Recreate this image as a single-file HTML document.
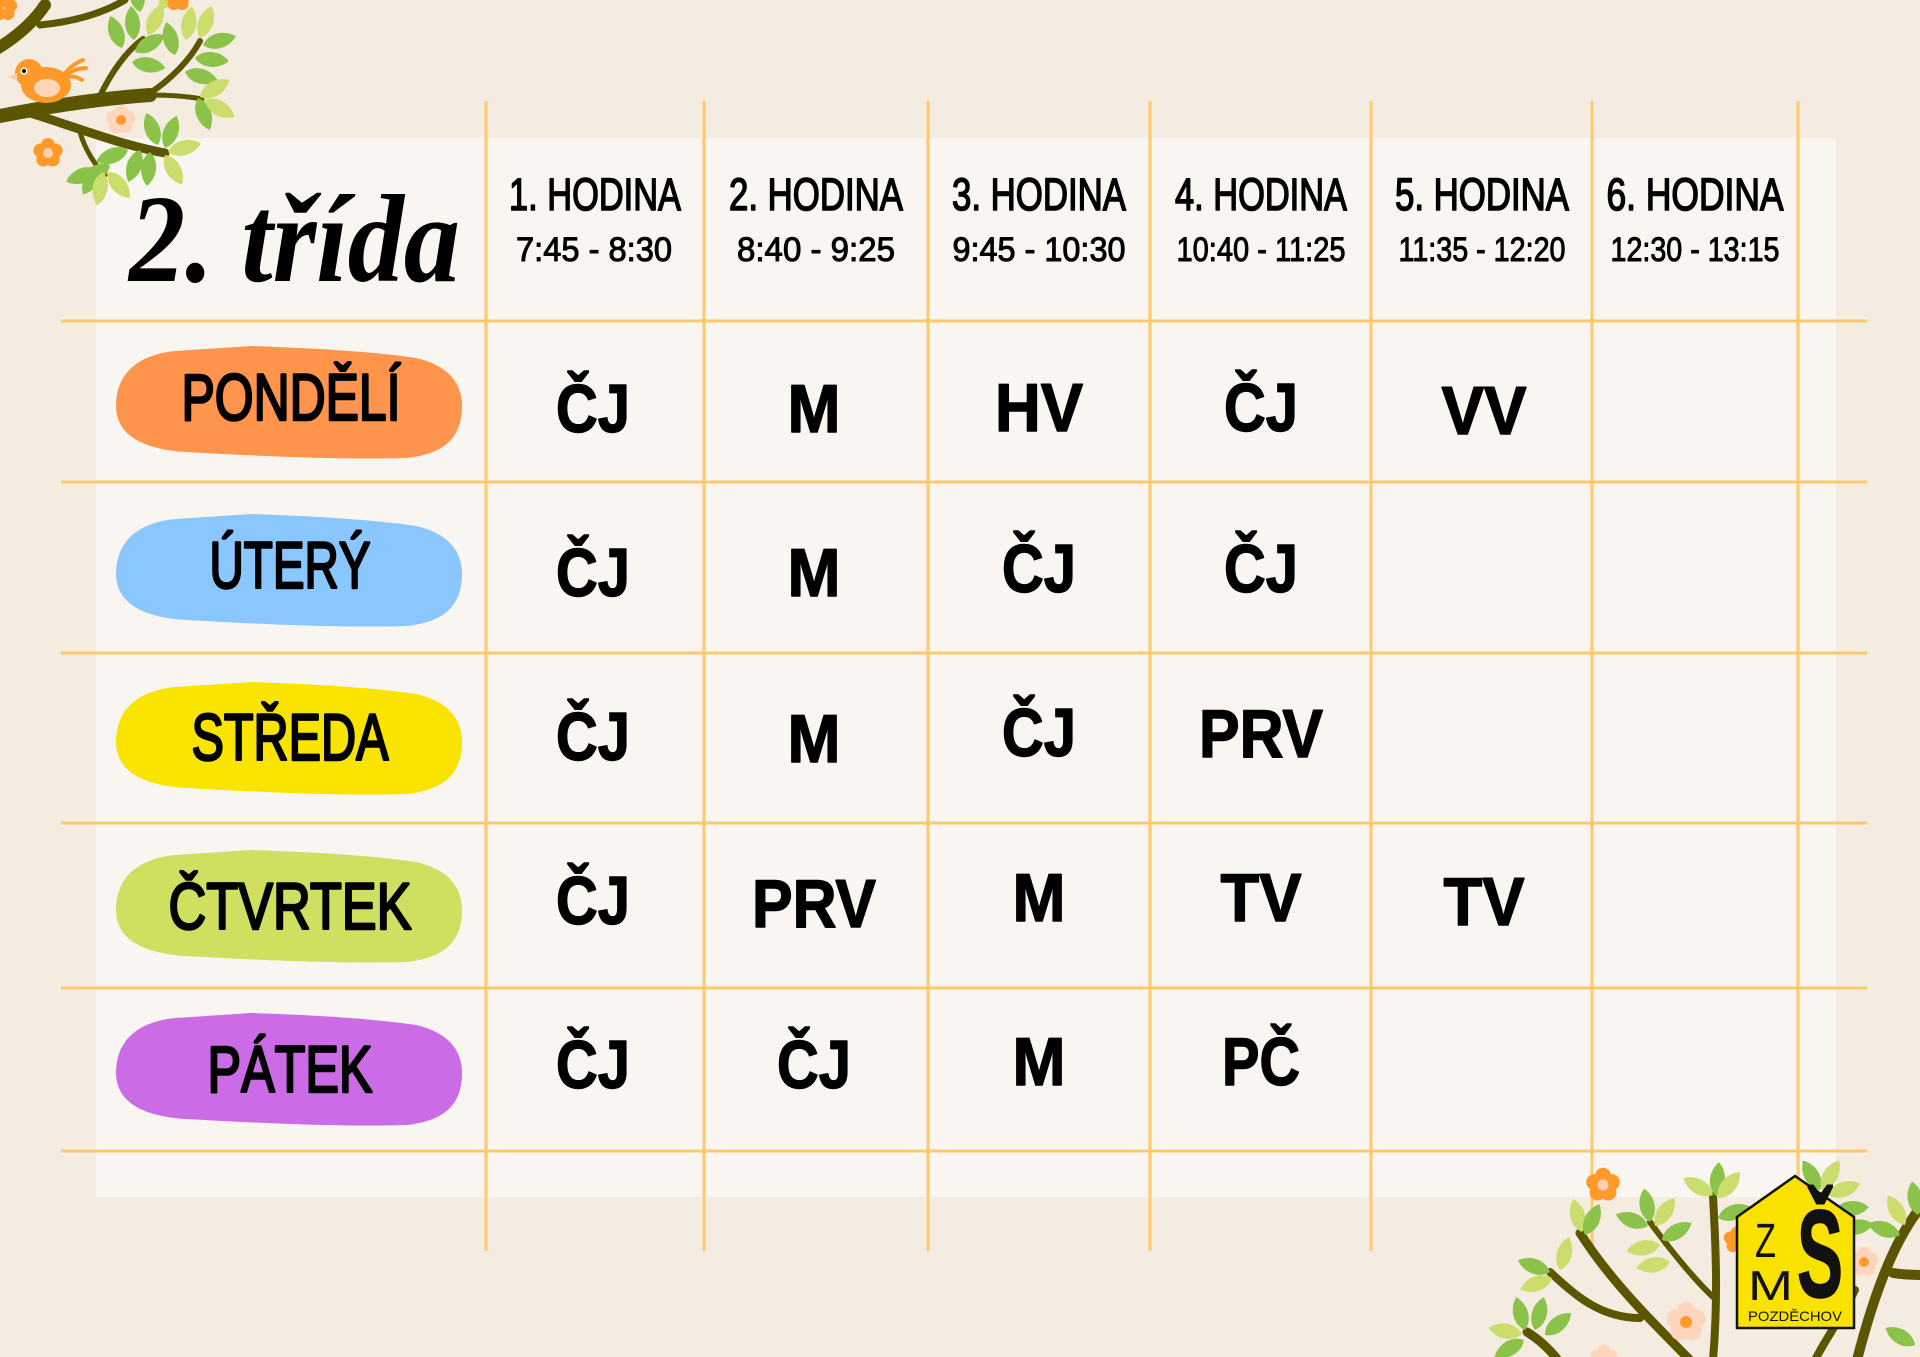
<!DOCTYPE html>
<html><head><meta charset="utf-8"><style>html,body{margin:0;padding:0;background:#f4ece1;}svg{display:block;}</style></head>
<body>
<svg width="1920" height="1357" viewBox="0 0 1920 1357" xmlns="http://www.w3.org/2000/svg">
<defs>
<path id="leaf" d="M0,0 C10,-8 10,-24 0,-34 C-10,-24 -10,-8 0,0Z"/>
<g id="petals"><circle cx="0" cy="-8" r="7"/><circle cx="7.6" cy="-2.5" r="7"/><circle cx="4.7" cy="6.5" r="7"/><circle cx="-4.7" cy="6.5" r="7"/><circle cx="-7.6" cy="-2.5" r="7"/></g>
<path id="blob" d="M0,60 C0,25 25,8 60,5 L135,0 C200,2 260,6 300,12 C335,20 346,40 346,60 C346,90 330,108 290,112 C230,114 140,110 70,106 C20,103 0,85 0,60Z"/>
</defs>
<rect width="1920" height="1357" fill="#f4ece1"/>
<rect x="96" y="138" width="1740" height="1059" fill="#f9f6f1"/>
<g stroke="#ffc86b" stroke-width="3">
<line x1="486" y1="101" x2="486" y2="1251"/><line x1="704" y1="101" x2="704" y2="1251"/><line x1="928" y1="101" x2="928" y2="1251"/><line x1="1150" y1="101" x2="1150" y2="1251"/><line x1="1371" y1="101" x2="1371" y2="1251"/><line x1="1592" y1="101" x2="1592" y2="1251"/><line x1="1798" y1="101" x2="1798" y2="1251"/>
<line x1="61" y1="321" x2="1867" y2="321"/><line x1="61" y1="482" x2="1867" y2="482"/><line x1="61" y1="653" x2="1867" y2="653"/><line x1="61" y1="823" x2="1867" y2="823"/><line x1="61" y1="988" x2="1867" y2="988"/><line x1="61" y1="1151" x2="1867" y2="1151"/>
</g>
<use href="#blob" x="116" y="346" fill="#ff944d"/>
<use href="#blob" x="116" y="514" fill="#8ac6ff"/>
<use href="#blob" x="116" y="682" fill="#f9e400"/>
<use href="#blob" x="116" y="850" fill="#cfdf5f"/>
<use href="#blob" x="116" y="1013" fill="#cb6ce6"/>
<g font-family="'Liberation Sans', sans-serif" font-size="66" fill="#000" stroke="#000" stroke-width="2.6" stroke-linejoin="round" text-anchor="middle">
<text x="291" y="420" textLength="219" lengthAdjust="spacingAndGlyphs">PONDĚLÍ</text>
<text x="290" y="588" textLength="161" lengthAdjust="spacingAndGlyphs">ÚTERÝ</text>
<text x="290" y="760" textLength="197" lengthAdjust="spacingAndGlyphs">STŘEDA</text>
<text x="290" y="929" textLength="243" lengthAdjust="spacingAndGlyphs">ČTVRTEK</text>
<text x="290" y="1092" textLength="165" lengthAdjust="spacingAndGlyphs">PÁTEK</text>
</g>
<text x="129" y="281" font-family="'Liberation Serif', serif" font-style="italic" font-weight="bold" font-size="125" fill="#000" textLength="331" lengthAdjust="spacingAndGlyphs">2. třída</text>
<g font-family="'Liberation Sans', sans-serif" font-size="45" fill="#000" stroke="#000" stroke-width="1.6" stroke-linejoin="round" text-anchor="middle">
<text x="595" y="210" textLength="172" lengthAdjust="spacingAndGlyphs">1. HODINA</text>
<text x="816" y="210" textLength="174" lengthAdjust="spacingAndGlyphs">2. HODINA</text>
<text x="1039" y="210" textLength="174" lengthAdjust="spacingAndGlyphs">3. HODINA</text>
<text x="1261" y="210" textLength="172" lengthAdjust="spacingAndGlyphs">4. HODINA</text>
<text x="1482" y="210" textLength="174" lengthAdjust="spacingAndGlyphs">5. HODINA</text>
<text x="1695" y="210" textLength="177" lengthAdjust="spacingAndGlyphs">6. HODINA</text>
</g>
<g font-family="'Liberation Sans', sans-serif" font-size="34" fill="#000" stroke="#000" stroke-width="1" stroke-linejoin="round" text-anchor="middle">
<text x="594" y="261" textLength="156" lengthAdjust="spacingAndGlyphs">7:45 - 8:30</text>
<text x="816" y="261" textLength="158" lengthAdjust="spacingAndGlyphs">8:40 - 9:25</text>
<text x="1039" y="261" textLength="173" lengthAdjust="spacingAndGlyphs">9:45 - 10:30</text>
<text x="1261" y="261" textLength="169" lengthAdjust="spacingAndGlyphs">10:40 - 11:25</text>
<text x="1482" y="261" textLength="167" lengthAdjust="spacingAndGlyphs">11:35 - 12:20</text>
<text x="1695" y="261" textLength="169" lengthAdjust="spacingAndGlyphs">12:30 - 13:15</text>
</g>
<g font-family="'Liberation Sans', sans-serif" font-weight="bold" font-size="68" fill="#000" stroke="#000" stroke-width="1.4" stroke-linejoin="round" text-anchor="middle">
<text x="593" y="432" textLength="74" lengthAdjust="spacingAndGlyphs">ČJ</text>
<text x="814" y="432" textLength="53" lengthAdjust="spacingAndGlyphs">M</text>
<text x="1039" y="431" textLength="88" lengthAdjust="spacingAndGlyphs">HV</text>
<text x="1261" y="431" textLength="74" lengthAdjust="spacingAndGlyphs">ČJ</text>
<text x="1484" y="434" textLength="85" lengthAdjust="spacingAndGlyphs">VV</text>
<text x="593" y="596" textLength="74" lengthAdjust="spacingAndGlyphs">ČJ</text>
<text x="814" y="596" textLength="53" lengthAdjust="spacingAndGlyphs">M</text>
<text x="1039" y="592" textLength="74" lengthAdjust="spacingAndGlyphs">ČJ</text>
<text x="1261" y="592" textLength="74" lengthAdjust="spacingAndGlyphs">ČJ</text>
<text x="593" y="760" textLength="74" lengthAdjust="spacingAndGlyphs">ČJ</text>
<text x="814" y="762" textLength="53" lengthAdjust="spacingAndGlyphs">M</text>
<text x="1039" y="756" textLength="74" lengthAdjust="spacingAndGlyphs">ČJ</text>
<text x="1261" y="757" textLength="124" lengthAdjust="spacingAndGlyphs">PRV</text>
<text x="593" y="924" textLength="74" lengthAdjust="spacingAndGlyphs">ČJ</text>
<text x="814" y="927" textLength="124" lengthAdjust="spacingAndGlyphs">PRV</text>
<text x="1039" y="921" textLength="53" lengthAdjust="spacingAndGlyphs">M</text>
<text x="1261" y="921" textLength="81" lengthAdjust="spacingAndGlyphs">TV</text>
<text x="1484" y="925" textLength="81" lengthAdjust="spacingAndGlyphs">TV</text>
<text x="593" y="1088" textLength="74" lengthAdjust="spacingAndGlyphs">ČJ</text>
<text x="814" y="1088" textLength="74" lengthAdjust="spacingAndGlyphs">ČJ</text>
<text x="1039" y="1085" textLength="53" lengthAdjust="spacingAndGlyphs">M</text>
<text x="1261" y="1085" textLength="78" lengthAdjust="spacingAndGlyphs">PČ</text>
</g>
<g fill="none" stroke="#5b5500" stroke-linecap="round">
<path d="M-5,117 Q80,100 150,95" stroke-width="14"/>
<path d="M150,95 Q180,95 202,99" stroke-width="5"/>
<path d="M100,96 C110,75 125,52 143,39" stroke-width="6"/>
<path d="M150,93 C170,80 190,60 200,41" stroke-width="6"/>
<path d="M30,113 C70,125 120,145 165,153" stroke-width="9"/>
<path d="M80,132 C85,150 95,165 105,175" stroke-width="5"/>
<path d="M-5,50 C20,35 35,20 45,5" stroke-width="12"/>
<path d="M40,25 C70,22 100,15 125,0" stroke-width="7"/>
</g>
<g>
<use href="#leaf" fill="#8bc34a" transform="translate(122,48) rotate(-20)"/>
<use href="#leaf" fill="#8bc34a" transform="translate(134,40) rotate(-5)"/>
<use href="#leaf" fill="#cbdd6c" transform="translate(148,35) rotate(25)"/>
<use href="#leaf" fill="#8bc34a" transform="translate(135,52) rotate(60)"/>
<use href="#leaf" fill="#8bc34a" transform="translate(132,62) rotate(100)"/>
<use href="#leaf" fill="#8bc34a" transform="translate(175,55) rotate(-15)"/>
<use href="#leaf" fill="#cbdd6c" transform="translate(186,40) rotate(10)"/>
<use href="#leaf" fill="#cbdd6c" transform="translate(200,38) rotate(20)"/>
<use href="#leaf" fill="#8bc34a" transform="translate(203,45) rotate(75)"/>
<use href="#leaf" fill="#8bc34a" transform="translate(195,58) rotate(95)"/>
<use href="#leaf" fill="#8bc34a" transform="translate(185,72) rotate(105)"/>
<use href="#leaf" fill="#cbdd6c" transform="translate(200,97) rotate(60)"/>
<use href="#leaf" fill="#8bc34a" transform="translate(198,98) rotate(160)"/>
<use href="#leaf" fill="#cbdd6c" transform="translate(205,100) rotate(120)"/>
<use href="#leaf" fill="#8bc34a" transform="translate(158,145) rotate(-20)"/>
<use href="#leaf" fill="#8bc34a" transform="translate(165,148) rotate(20)"/>
<use href="#leaf" fill="#cbdd6c" transform="translate(168,152) rotate(75)"/>
<use href="#leaf" fill="#cbdd6c" transform="translate(165,155) rotate(150)"/>
<use href="#leaf" fill="#8bc34a" transform="translate(150,152) rotate(185)"/>
<use href="#leaf" fill="#8bc34a" transform="translate(140,150) rotate(200)"/>
<use href="#leaf" fill="#8bc34a" transform="translate(128,150) rotate(250)"/>
<use href="#leaf" fill="#8bc34a" transform="translate(110,165) rotate(240)"/>
<use href="#leaf" fill="#8bc34a" transform="translate(100,165) rotate(210)"/>
<use href="#leaf" fill="#8bc34a" transform="translate(98,170) rotate(-110)"/>
<use href="#leaf" fill="#cbdd6c" transform="translate(103,172) rotate(190)"/>
<use href="#leaf" fill="#cbdd6c" transform="translate(108,172) rotate(140)"/>
<use href="#leaf" fill="#8bc34a" transform="translate(140,12) rotate(-10)"/>
<use href="#leaf" fill="#cbdd6c" transform="translate(160,10) rotate(30)"/>
</g>
<use href="#petals" fill="#ff9a2a" transform="translate(48,153)"/><circle cx="48" cy="153" r="5" fill="#ffd0b0"/>
<use href="#petals" fill="#ffd6bd" transform="translate(121,120)"/><circle cx="121" cy="120" r="5" fill="#ff9a2a"/>
<use href="#petals" fill="#ff9a2a" transform="translate(4,8) scale(0.9)"/>
<use href="#petals" fill="#ff9a2a" transform="translate(178,-2) scale(0.9)"/>
<g fill="none" stroke="#ff9a2a" stroke-width="4" stroke-linecap="round">
<path d="M66,72 C72,65 78,62 83,60"/>
<path d="M66,74 C74,70 80,68 86,68"/>
<path d="M66,76 C72,76 78,77 82,80"/>
</g>
<ellipse cx="46" cy="85" rx="25" ry="18" fill="#ff9a2a"/>
<circle cx="29" cy="73" r="14" fill="#ff9a2a"/>
<ellipse cx="47" cy="88" rx="13" ry="9" fill="#ffd5b8"/>
<polygon points="8,77 17,73 17,81" fill="#ffcfa8"/>
<circle cx="24" cy="71" r="3.5" fill="#fff"/><circle cx="24" cy="71" r="2" fill="#000"/>
<g fill="none" stroke="#5b5500" stroke-linecap="round">
<path d="M1713,1196 C1716,1250 1718,1300 1713,1360" stroke-width="8"/>
<path d="M1580,1233 C1610,1280 1650,1320 1690,1360" stroke-width="9"/>
<path d="M1550,1272 C1575,1295 1600,1318 1640,1318" stroke-width="8"/>
<path d="M1650,1222 C1670,1250 1695,1280 1713,1297" stroke-width="6"/>
<path d="M1527,1332 C1540,1340 1550,1350 1558,1360" stroke-width="9"/>
<path d="M1920,1208 C1895,1240 1875,1290 1857,1360" stroke-width="10"/>
<path d="M1893,1273 C1905,1275 1915,1275 1922,1275" stroke-width="10"/>
<path d="M1855,1290 C1840,1320 1825,1340 1815,1360" stroke-width="8"/>
</g>
<g>
<use href="#leaf" fill="#8bc34a" transform="translate(1716,1196) rotate(5)"/>
<use href="#leaf" fill="#cbdd6c" transform="translate(1713,1195) rotate(-60)"/>
<use href="#leaf" fill="#cbdd6c" transform="translate(1718,1198) rotate(40)"/>
<use href="#leaf" fill="#8bc34a" transform="translate(1718,1218) rotate(70)"/>
<use href="#leaf" fill="#8bc34a" transform="translate(1820,1190) rotate(-30)"/>
<use href="#leaf" fill="#cbdd6c" transform="translate(1822,1190) rotate(30)"/>
<use href="#leaf" fill="#cbdd6c" transform="translate(1828,1195) rotate(70)"/>
<use href="#leaf" fill="#8bc34a" transform="translate(1835,1210) rotate(85)"/>
<use href="#leaf" fill="#8bc34a" transform="translate(1840,1230) rotate(80)"/>
<use href="#leaf" fill="#8bc34a" transform="translate(1650,1222) rotate(-10)"/>
<use href="#leaf" fill="#cbdd6c" transform="translate(1655,1226) rotate(35)"/>
<use href="#leaf" fill="#8bc34a" transform="translate(1648,1226) rotate(-70)"/>
<use href="#leaf" fill="#8bc34a" transform="translate(1662,1240) rotate(60)"/>
<use href="#leaf" fill="#cbdd6c" transform="translate(1660,1245) rotate(-100)"/>
<use href="#leaf" fill="#cbdd6c" transform="translate(1670,1262) rotate(-100)"/>
<use href="#leaf" fill="#cbdd6c" transform="translate(1582,1232) rotate(-15)"/>
<use href="#leaf" fill="#8bc34a" transform="translate(1585,1235) rotate(25)"/>
<use href="#leaf" fill="#cbdd6c" transform="translate(1560,1270) rotate(15)"/>
<use href="#leaf" fill="#8bc34a" transform="translate(1550,1272) rotate(-70)"/>
<use href="#leaf" fill="#cbdd6c" transform="translate(1552,1278) rotate(-110)"/>
<use href="#leaf" fill="#8bc34a" transform="translate(1525,1330) rotate(-15)"/>
<use href="#leaf" fill="#8bc34a" transform="translate(1535,1330) rotate(15)"/>
<use href="#leaf" fill="#8bc34a" transform="translate(1545,1335) rotate(50)"/>
<use href="#leaf" fill="#cbdd6c" transform="translate(1522,1334) rotate(-80)"/>
<use href="#leaf" fill="#8bc34a" transform="translate(1524,1340) rotate(-120)"/>
<use href="#leaf" fill="#cbdd6c" transform="translate(1905,1225) rotate(-30)"/>
<use href="#leaf" fill="#8bc34a" transform="translate(1900,1235) rotate(-70)"/>
<use href="#leaf" fill="#8bc34a" transform="translate(1918,1215) rotate(-10)"/>
<use href="#leaf" fill="#8bc34a" transform="translate(1915,1345) rotate(-60)"/>
</g>
<use href="#petals" fill="#ff9a2a" transform="translate(1603,1185) scale(1.15)"/><circle cx="1603" cy="1185" r="5.5" fill="#ffd0b0"/>
<use href="#petals" fill="#ff9a2a" transform="translate(1737,1240) scale(0.9)"/>
<use href="#petals" fill="#ffd6bd" transform="translate(1686,1322) scale(1.35)"/><circle cx="1686" cy="1322" r="6" fill="#ff9a2a"/>
<use href="#petals" fill="#ffd6bd" transform="translate(1864,1262)"/><circle cx="1864" cy="1262" r="5" fill="#ff9a2a"/>
<use href="#petals" fill="#ffd6bd" transform="translate(1604,1358) scale(0.9)"/>
<polygon points="1737,1217 1795,1176 1854,1217 1854,1328 1737,1328" fill="#f9e200" stroke="#111" stroke-width="2.5"/>
<text x="1755" y="1257" font-family="'Liberation Sans', sans-serif" font-size="48" fill="#111" textLength="21" lengthAdjust="spacingAndGlyphs">Z</text>
<text x="1748" y="1300" font-family="'Liberation Sans', sans-serif" font-size="42" fill="#111" textLength="45" lengthAdjust="spacingAndGlyphs">M</text>
<text x="1797" y="1297" font-family="'Liberation Sans', sans-serif" font-weight="bold" font-size="124" fill="#111" stroke="#111" stroke-width="1.5" textLength="46" lengthAdjust="spacingAndGlyphs">Š</text>
<text x="1795" y="1321" font-family="'Liberation Sans', sans-serif" font-size="14" fill="#111" text-anchor="middle" textLength="94" lengthAdjust="spacingAndGlyphs">POZDĚCHOV</text>
</svg>
</body></html>
